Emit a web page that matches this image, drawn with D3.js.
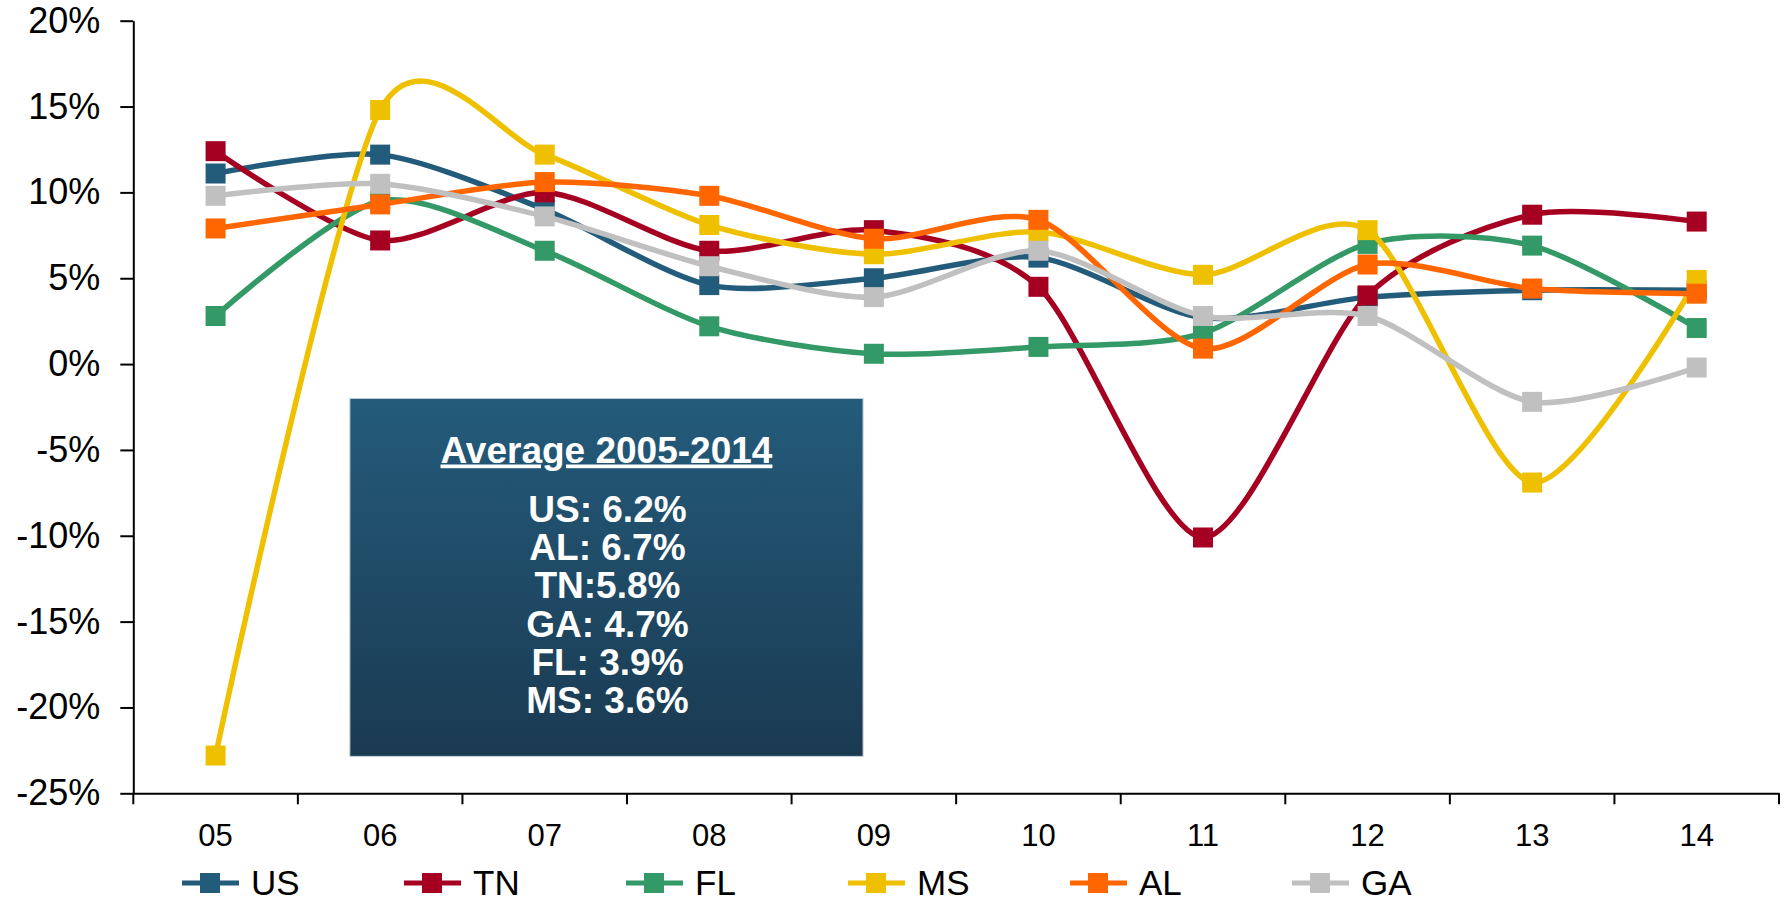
<!DOCTYPE html>
<html>
<head>
<meta charset="utf-8">
<script src="https://cdnjs.cloudflare.com/ajax/libs/d3/7.8.5/d3.min.js"></script>
<style>
    body { margin: 0; background: #fff; }
    svg { display: block; font-family: "Liberation Sans", Arial, sans-serif; }
</style>
</head>
<body>
<div id="vis"></div>
<script>
var years = ["05", "06", "07", "08", "09", "10", "11", "12", "13", "14"];
var yTicks = [20, 15, 10, 5, 0, -5, -10, -15, -20, -25];

var seriesNames = ["US", "TN", "FL", "MS", "AL", "GA"];
var usValues = [11.1, 12.2, 9.0, 4.6, 5.0, 6.2, 2.7, 3.9, 4.3, 4.3];
var tnValues = [12.4, 7.2, 10.0, 6.6, 7.8, 4.5, -10.1, 4.0, 8.7, 8.3];
var flValues = [2.8, 9.5, 6.6, 2.2, 0.6, 1.0, 1.8, 7.0, 6.9, 2.1];
var msValues = [-22.8, 14.8, 12.2, 8.1, 6.4, 7.7, 5.2, 7.8, -6.9, 4.9];
var alValues = [7.9, 9.3, 10.6, 9.8, 7.3, 8.4, 0.9, 5.8, 4.4, 4.1];
var gaValues = [9.8, 10.5, 8.6, 5.7, 3.9, 6.6, 2.8, 2.8, -2.2, -0.2];
var seriesColors = ["#235B7B", "#A50021", "#339966", "#EEC000", "#FF6600", "#C0C0C0"];

var boxTitle = "Average 2005-2014";
var boxLines = ["US: 6.2%", "AL: 6.7%", "TN:5.8%", "GA: 4.7%", "FL: 3.9%", "MS: 3.6%"];

var width = 1787,
    height = 903;
var margin = { top: 20.7, right: 8, bottom: 110, left: 133.3 };

var svg = d3.select("#vis")
    .append("svg")
    .attr("width", width)
    .attr("height", height);

svg.append("rect")
    .attr("width", width)
    .attr("height", height)
    .attr("fill", "#fff");

var x = d3.scaleBand()
    .domain(years)
    .range([margin.left, width - margin.right]);

var y = d3.scaleLinear()
    .domain([-25, 20])
    .range([height - margin.bottom + 0.3, margin.top]);

// text box gradient
var defs = svg.append("defs");
var grad = defs.append("linearGradient")
    .attr("id", "boxGrad")
    .attr("x1", 0).attr("y1", 0)
    .attr("x2", 0).attr("y2", 1);
grad.append("stop").attr("offset", "0%").attr("stop-color", "#245B7B");
grad.append("stop").attr("offset", "100%").attr("stop-color", "#1A3A51");

// the "Average" box
var boxX0 = x("06") + 52,
    boxX1 = x("09") + 71.5,
    boxY0 = y(-2.0),
    boxY1 = y(-22.85);

svg.append("rect")
    .attr("x", boxX0)
    .attr("y", boxY0)
    .attr("width", boxX1 - boxX0)
    .attr("height", boxY1 - boxY0)
    .attr("fill", "url(#boxGrad)")
    .attr("stroke", "#c5d2dc")
    .attr("stroke-width", 1);

var boxCx = (boxX0 + boxX1) / 2;

svg.append("text")
    .attr("x", boxCx)
    .attr("y", 462.5)
    .attr("text-anchor", "middle")
    .attr("fill", "#fff")
    .style("font-weight", "bold")
    .style("font-size", "37px")
    .style("text-decoration", "underline")
    .text(boxTitle);

svg.append("g")
    .selectAll("text")
    .data(boxLines)
    .enter().append("text")
    .attr("x", boxCx + 1)
    .attr("y", function (d, i) { return 521.7 + i * 38.3; })
    .attr("text-anchor", "middle")
    .attr("fill", "#fff")
    .style("font-weight", "bold")
    .style("font-size", "37px")
    .text(function (d) { return d; });

// y axis
var yAxis = svg.append("g")
    .attr("transform", "translate(" + margin.left + ",0)")
    .call(d3.axisLeft(y)
        .tickValues(yTicks)
        .tickSize(13)
        .tickSizeOuter(0)
        .tickPadding(20)
        .tickFormat(function (d) { return d + "%"; }));
yAxis.select(".domain").attr("stroke", "#000").attr("stroke-width", 2);
yAxis.selectAll(".tick line").attr("stroke", "#000").attr("stroke-width", 2);
yAxis.selectAll(".tick text")
    .attr("fill", "#000")
    .style("font-size", "36px")
    .style("font-family", "'Liberation Sans', Arial, sans-serif");

// x axis
var xAxis = svg.append("g")
    .attr("transform", "translate(0," + y(-25) + ")")
    .call(d3.axisBottom(x)
        .tickSize(0)
        .tickSizeOuter(0)
        .tickPadding(31));
xAxis.select(".domain").attr("stroke", "#000").attr("stroke-width", 2);
xAxis.selectAll(".tick text")
    .attr("fill", "#000")
    .style("font-size", "31px")
    .style("font-family", "'Liberation Sans', Arial, sans-serif");

// boundary ticks between the year columns
var bounds = years.map(function (d) { return x(d); }).concat([x(years[years.length - 1]) + x.bandwidth()]);
xAxis.selectAll(".bound")
    .data(bounds)
    .enter().append("line")
    .attr("class", "bound")
    .attr("x1", function (d) { return d; })
    .attr("x2", function (d) { return d; })
    .attr("y1", 0)
    .attr("y2", 11)
    .attr("stroke", "#000")
    .attr("stroke-width", 2);

// lines
var allValues = [usValues, tnValues, flValues, msValues, alValues, gaValues];
var series = seriesNames.map(function (name, i) {
    return {
        name: name,
        color: seriesColors[i],
        values: allValues[i].map(function (v, j) { return { year: years[j], value: v }; })
    };
});

var line = d3.line()
    .x(function (d) { return x(d.year) + x.bandwidth() / 2; })
    .y(function (d) { return y(d.value); })
    .curve(d3.curveCardinal.tension(0.2));

var groups = svg.selectAll(".serie")
    .data(series)
    .enter().append("g")
    .attr("class", "serie");

groups.append("path")
    .attr("d", function (d) { return line(d.values); })
    .attr("fill", "none")
    .attr("stroke", function (d) { return d.color; })
    .attr("stroke-width", 5.5)
    .attr("stroke-linejoin", "round");

groups.selectAll("rect")
    .data(function (d) { return d.values.map(function (v) { return { v: v, color: d.color }; }); })
    .enter().append("rect")
    .attr("x", function (d) { return x(d.v.year) + x.bandwidth() / 2 - 10; })
    .attr("y", function (d) { return y(d.v.value) - 10; })
    .attr("width", 20)
    .attr("height", 20)
    .attr("fill", function (d) { return d.color; });

// legend
var legend = svg.selectAll(".legend")
    .data(series)
    .enter().append("g")
    .attr("class", "legend")
    .attr("transform", function (d, i) { return "translate(" + (182 + i * 222) + ",883)"; });

legend.append("line")
    .attr("x1", 0)
    .attr("x2", 57)
    .attr("stroke", function (d) { return d.color; })
    .attr("stroke-width", 5);

legend.append("rect")
    .attr("x", 18)
    .attr("y", -10)
    .attr("width", 20)
    .attr("height", 20)
    .attr("fill", function (d) { return d.color; });

legend.append("text")
    .attr("x", 69)
    .attr("y", 12)
    .attr("fill", "#000")
    .style("font-size", "35px")
    .text(function (d) { return d.name; });
</script>
</body>
</html>
